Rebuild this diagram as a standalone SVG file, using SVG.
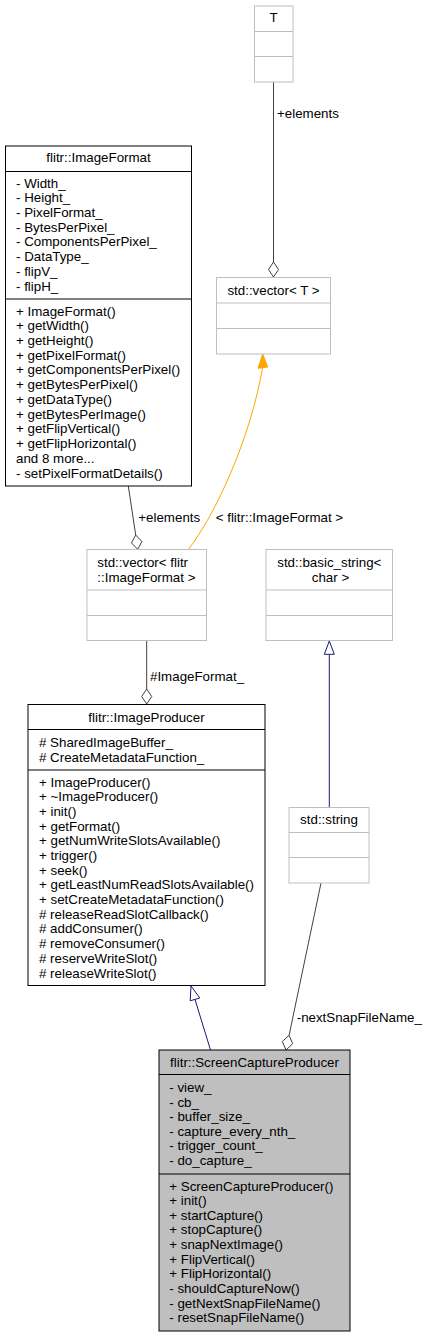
<svg xmlns="http://www.w3.org/2000/svg" width="427" height="1337" viewBox="0 0 427 1337">
<style>
text{font-family:"Liberation Sans",Arial,sans-serif;font-size:13.33px;fill:#000}
.m{text-anchor:middle}
.bk{fill:#fff;stroke:#000;stroke-width:1}
.gr{fill:#fff;stroke:#bfbfbf;stroke-width:1}
.fc{fill:#bfbfbf;stroke:#000;stroke-width:1}
.lb{stroke:#000;stroke-width:1}
.lg{stroke:#bfbfbf;stroke-width:1}
.use{fill:none;stroke:#404040;stroke-width:1}
.dia{fill:#fff;stroke:#404040;stroke-width:1}
.inh{fill:none;stroke:#191970;stroke-width:1}
.tri{fill:#fff;stroke:#191970;stroke-width:1}
.tpl{fill:none;stroke:#ffa500;stroke-width:1}
</style>
<rect width="427" height="1337" fill="#fff"/>
<g id="connectors">
  <path class="use" d="M273.5,82 L273.5,262"/>
  <polygon class="dia" points="273.5,262 278.5,269.5 273.5,277 268.5,269.5"/>
  <text x="277" y="117.5">+elements</text>

  <path class="use" d="M128.3,486 L135.7,535"/>
  <polygon class="dia" points="135.7,535 141.9,541.5 137.7,549.3 131.5,542.9"/>
  <text x="138.3" y="521.5">+elements</text>

  <path class="tpl" d="M188.7,549 C215,515 250,440 262.5,368"/>
  <polygon points="262.7,354 267.7,367 258,368.3" fill="#ffa500" stroke="#ffa500"/>
  <text x="215.7" y="521.5">&lt; flitr::ImageFormat &gt;</text>

  <path class="use" d="M146.7,641 L146.7,689"/>
  <polygon class="dia" points="146.7,689 151.7,696.5 146.7,704 141.7,696.5"/>
  <text x="150" y="680.5">#ImageFormat_</text>

  <path class="inh" d="M329.3,654.3 L329.3,807.5"/>
  <polygon class="tri" points="329.3,641 334.3,654.3 324.3,654.3"/>

  <path class="use" d="M321,883 L289.1,1035.3"/>
  <polygon class="dia" points="289.1,1035.3 292.7,1043.7 286,1050 282.3,1041.5"/>
  <text x="296.7" y="1021.5">-nextSnapFileName_</text>

  <path class="inh" d="M210.5,1050 L195,999.4"/>
  <polygon class="tri" points="191,986 199.8,998 190.2,1000.8"/>
</g>
<g id="node_T">
  <rect class="gr" x="254.5" y="6" width="38.5" height="76"/>
  <line class="lg" x1="254.5" y1="31.5" x2="293" y2="31.5"/>
  <line class="lg" x1="254.5" y1="56.5" x2="293" y2="56.5"/>
  <text class="m" x="273.7" y="21.5">T</text>
</g>
<g id="node_vectorT">
  <rect class="gr" x="216.5" y="277.5" width="114" height="76.5"/>
  <line class="lg" x1="216.5" y1="303" x2="330.5" y2="303"/>
  <line class="lg" x1="216.5" y1="328.5" x2="330.5" y2="328.5"/>
  <text class="m" x="273.5" y="294.5">std::vector&lt; T &gt;</text>
</g>
<g id="node_ImageFormat">
  <rect class="bk" x="5.5" y="146" width="186" height="340"/>
  <line class="lb" x1="5.5" y1="171.5" x2="191.5" y2="171.5"/>
  <line class="lb" x1="5.5" y1="299" x2="191.5" y2="299"/>
  <text class="m" x="98.5" y="162">flitr::ImageFormat</text>
  <text x="16" y="187.5">- Width_</text>
  <text x="16" y="202.2">- Height_</text>
  <text x="16" y="217">- PixelFormat_</text>
  <text x="16" y="231.7">- BytesPerPixel_</text>
  <text x="16" y="246.4">- ComponentsPerPixel_</text>
  <text x="16" y="261.2">- DataType_</text>
  <text x="16" y="275.9">- flipV_</text>
  <text x="16" y="290.6">- flipH_</text>
  <text x="16" y="315.5">+ ImageFormat()</text>
  <text x="16" y="330.2">+ getWidth()</text>
  <text x="16" y="345">+ getHeight()</text>
  <text x="16" y="359.7">+ getPixelFormat()</text>
  <text x="16" y="374.4">+ getComponentsPerPixel()</text>
  <text x="16" y="389.2">+ getBytesPerPixel()</text>
  <text x="16" y="403.9">+ getDataType()</text>
  <text x="16" y="418.6">+ getBytesPerImage()</text>
  <text x="16" y="433.3">+ getFlipVertical()</text>
  <text x="16" y="448.1">+ getFlipHorizontal()</text>
  <text x="16" y="462.8">and 8 more...</text>
  <text x="16" y="477.5">- setPixelFormatDetails()</text>
</g>
<g id="node_vectorImageFormat">
  <rect class="gr" x="87" y="549.5" width="119.5" height="91"/>
  <line class="lg" x1="87" y1="590" x2="206.5" y2="590"/>
  <line class="lg" x1="87" y1="615.5" x2="206.5" y2="615.5"/>
  <text x="97.3" y="566.5">std::vector&lt; flitr</text>
  <text x="97.3" y="581.5">::ImageFormat &gt;</text>
</g>
<g id="node_basic_string">
  <rect class="gr" x="266" y="549.5" width="126.5" height="91"/>
  <line class="lg" x1="266" y1="590" x2="392.5" y2="590"/>
  <line class="lg" x1="266" y1="615.5" x2="392.5" y2="615.5"/>
  <text class="m" x="329.3" y="566.5">std::basic_string&lt;</text>
  <text class="m" x="330.5" y="581.5">char &gt;</text>
</g>
<g id="node_ImageProducer">
  <rect class="bk" x="28" y="704.5" width="237" height="281"/>
  <line class="lb" x1="28" y1="729.5" x2="265" y2="729.5"/>
  <line class="lb" x1="28" y1="770" x2="265" y2="770"/>
  <text class="m" x="146.5" y="721.5">flitr::ImageProducer</text>
  <text x="39" y="746.5"># SharedImageBuffer_</text>
  <text x="39" y="761.5"># CreateMetadataFunction_</text>
  <text x="39" y="786.5">+ ImageProducer()</text>
  <text x="39" y="801.2">+ ~ImageProducer()</text>
  <text x="39" y="815.9">+ init()</text>
  <text x="39" y="830.6">+ getFormat()</text>
  <text x="39" y="845.3">+ getNumWriteSlotsAvailable()</text>
  <text x="39" y="860">+ trigger()</text>
  <text x="39" y="874.6">+ seek()</text>
  <text x="39" y="889.3">+ getLeastNumReadSlotsAvailable()</text>
  <text x="39" y="904">+ setCreateMetadataFunction()</text>
  <text x="39" y="918.7"># releaseReadSlotCallback()</text>
  <text x="39" y="933.4"># addConsumer()</text>
  <text x="39" y="948.1"># removeConsumer()</text>
  <text x="39" y="962.8"># reserveWriteSlot()</text>
  <text x="39" y="977.5"># releaseWriteSlot()</text>
</g>
<g id="node_string">
  <rect class="gr" x="289" y="807.5" width="80" height="75.5"/>
  <line class="lg" x1="289" y1="832.5" x2="369" y2="832.5"/>
  <line class="lg" x1="289" y1="857.5" x2="369" y2="857.5"/>
  <text class="m" x="329" y="823.5">std::string</text>
</g>
<g id="node_ScreenCaptureProducer">
  <rect class="fc" x="159" y="1050" width="191" height="281"/>
  <line class="lb" x1="159" y1="1074.5" x2="350" y2="1074.5"/>
  <line class="lb" x1="159" y1="1174" x2="350" y2="1174"/>
  <text class="m" x="254.5" y="1067">flitr::ScreenCaptureProducer</text>
  <text x="169.3" y="1092">- view_</text>
  <text x="169.3" y="1106.5">- cb_</text>
  <text x="169.3" y="1121.1">- buffer_size_</text>
  <text x="169.3" y="1135.6">- capture_every_nth_</text>
  <text x="169.3" y="1150.1">- trigger_count_</text>
  <text x="169.3" y="1164.7">- do_capture_</text>
  <text x="169.3" y="1190.5">+ ScreenCaptureProducer()</text>
  <text x="169.3" y="1205.1">+ init()</text>
  <text x="169.3" y="1219.8">+ startCapture()</text>
  <text x="169.3" y="1234.4">+ stopCapture()</text>
  <text x="169.3" y="1249">+ snapNextImage()</text>
  <text x="169.3" y="1263.7">+ FlipVertical()</text>
  <text x="169.3" y="1278.3">+ FlipHorizontal()</text>
  <text x="169.3" y="1292.9">- shouldCaptureNow()</text>
  <text x="169.3" y="1307.6">- getNextSnapFileName()</text>
  <text x="169.3" y="1322.2">- resetSnapFileName()</text>
</g>
</svg>
